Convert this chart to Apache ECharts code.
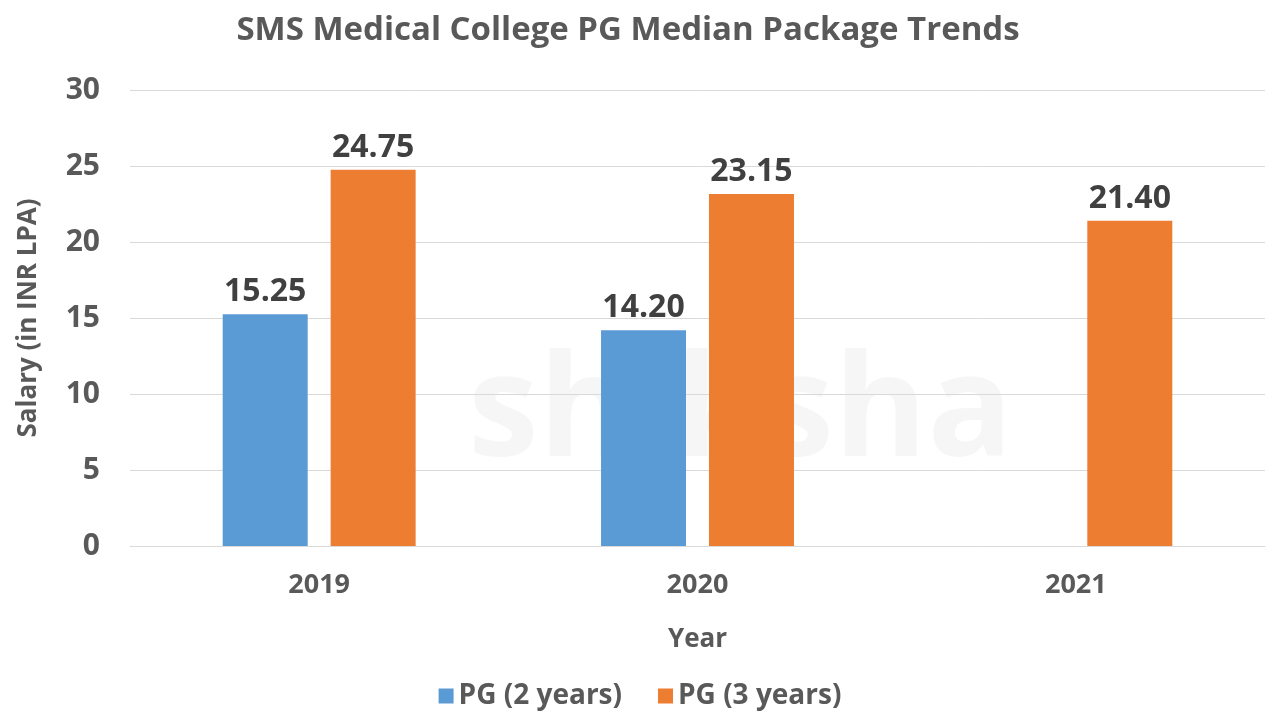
<!DOCTYPE html>
<html>
<head>
<meta charset="utf-8">
<script src="https://cdn.jsdelivr.net/npm/echarts@6/dist/echarts.min.js"></script>
<style>
  html, body { margin: 0; padding: 0; background: #fff; }
  #chart { width: 1280px; height: 720px; }
</style>
</head>
<body>
<div id="chart"></div>
<script>
var years = ['2019', '2020', '2021'];
var pg2 = [15.25, 14.20, null];
var pg3 = [24.75, 23.15, 21.40];
var yTicks = [0, 5, 10, 15, 20, 25, 30];

var font = '"Open Sans", "DejaVu Sans", sans-serif';
var textColor = '#595959';

var myChart = echarts.init(document.getElementById('chart'));

var option = {
    backgroundColor: '#fff',
    textStyle: { fontFamily: font },
    title: {
        text: 'SMS Medical College PG Median Package Trends',
        left: 623,
        textAlign: 'center',
        top: 9,
        textStyle: { fontSize: 33, fontWeight: 'bold', color: textColor, fontFamily: font }
    },
    graphic: [{
        type: 'text',
        left: 468,
        top: 345,
        z: 0,
        style: {
            text: 'shiksha',
            fontSize: 142,
            fontWeight: 'bold',
            fontFamily: font,
            fill: 'rgba(0,0,0,0.035)'
        }
    }],
    legend: {
        bottom: 5,
        left: 'center',
        itemWidth: 15,
        itemHeight: 15,
        itemGap: 36,
        icon: 'rect',
        textStyle: { fontSize: 28, fontWeight: 'bold', color: textColor, fontFamily: font },
        data: ['PG (2 years)', 'PG (3 years)']
    },
    grid: {
        left: 130,
        right: 15,
        top: 90,
        bottom: 174,
        containLabel: false
    },
    xAxis: {
        type: 'category',
        data: years,
        name: 'Year',
        nameLocation: 'middle',
        nameGap: 81,
        nameTextStyle: { fontSize: 26, fontWeight: 'bold', color: textColor },
        axisLine: { lineStyle: { color: '#d9d9d9' } },
        axisTick: { show: false },
        axisLabel: { fontSize: 27, fontWeight: 'bold', color: textColor, margin: 26 }
    },
    yAxis: {
        type: 'value',
        min: 0,
        max: 30,
        interval: 5,
        name: 'Salary (in INR LPA)',
        nameLocation: 'middle',
        nameGap: 88,
        nameTextStyle: { fontSize: 26, fontWeight: 'bold', color: textColor },
        axisLine: { show: false },
        axisTick: { show: false },
        splitLine: { lineStyle: { color: '#d9d9d9' } },
        axisLabel: {
            fontSize: 30, fontWeight: 'bold', color: textColor, margin: 30,
            formatter: function (v) { return yTicks.indexOf(v) >= 0 ? String(v) : ''; }
        }
    },
    series: [
        {
            name: 'PG (2 years)',
            type: 'bar',
            data: pg2,
            barWidth: 85,
            barGap: '27%',
            itemStyle: { color: '#5B9BD5' },
            label: {
                show: true, position: 'top', distance: 6,
                fontSize: 32, fontWeight: 'bold', color: '#404040',
                formatter: function (p) { return p.value == null ? '' : p.value.toFixed(2); }
            }
        },
        {
            name: 'PG (3 years)',
            type: 'bar',
            data: pg3,
            barWidth: 85,
            itemStyle: { color: '#ED7D31' },
            label: {
                show: true, position: 'top', distance: 6,
                fontSize: 32, fontWeight: 'bold', color: '#404040',
                formatter: function (p) { return p.value.toFixed(2); }
            }
        }
    ]
};

myChart.setOption(option);
window.addEventListener('resize', function () {
    myChart.resize();
});
</script>
</body>
</html>
